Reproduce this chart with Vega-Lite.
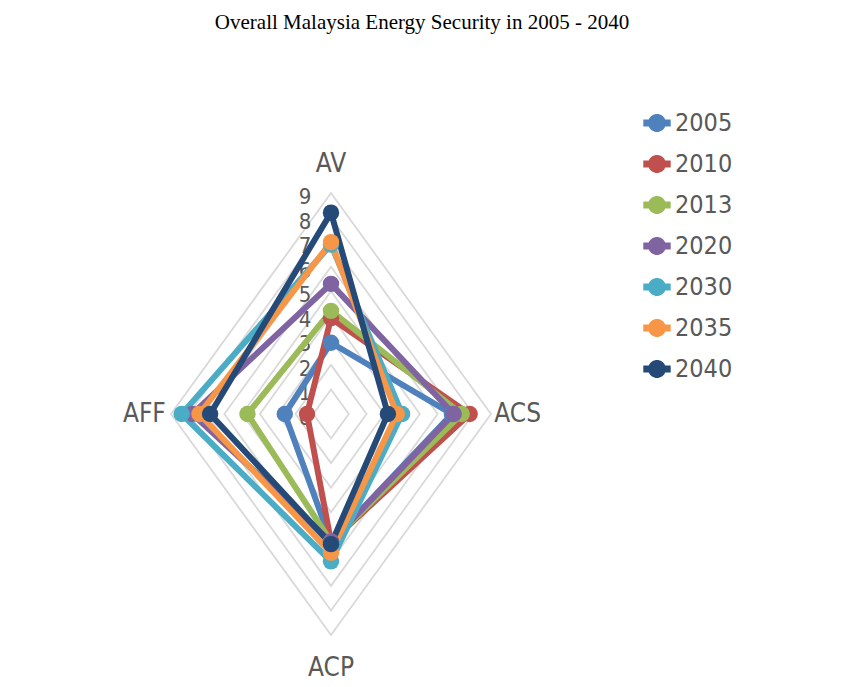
{
  "$schema": "https://vega.github.io/schema/vega-lite/v6.json",
  "width": 320,
  "height": 442,
  "autosize": "none",
  "padding": {"left": 171, "top": 193, "right": 352, "bottom": 52},
  "background": "white",
  "config": {"view": {"stroke": null}},
  "title": {
    "text": "Overall Malaysia Energy Security in 2005 - 2040",
    "font": "Liberation Serif",
    "fontSize": 21,
    "fontWeight": "normal",
    "color": "#000000",
    "anchor": "middle",
    "frame": "group",
    "baseline": "bottom",
    "dx": 91,
    "offset": 55
  },
  "datasets": {
    "scores": [
      {"year": "2005", "axis": "AV", "value": 2.9},
      {"year": "2005", "axis": "ACS", "value": 6.8},
      {"year": "2005", "axis": "ACP", "value": 5.2},
      {"year": "2005", "axis": "AFF", "value": 2.6},
      {"year": "2010", "axis": "AV", "value": 3.9},
      {"year": "2010", "axis": "ACS", "value": 7.8},
      {"year": "2010", "axis": "ACP", "value": 5.2},
      {"year": "2010", "axis": "AFF", "value": 1.35},
      {"year": "2013", "axis": "AV", "value": 4.2},
      {"year": "2013", "axis": "ACS", "value": 7.35},
      {"year": "2013", "axis": "ACP", "value": 5.2},
      {"year": "2013", "axis": "AFF", "value": 4.7},
      {"year": "2020", "axis": "AV", "value": 5.3},
      {"year": "2020", "axis": "ACS", "value": 6.9},
      {"year": "2020", "axis": "ACP", "value": 5.2},
      {"year": "2020", "axis": "AFF", "value": 7.8},
      {"year": "2030", "axis": "AV", "value": 6.9},
      {"year": "2030", "axis": "ACS", "value": 4.0},
      {"year": "2030", "axis": "ACP", "value": 6.0},
      {"year": "2030", "axis": "AFF", "value": 8.4},
      {"year": "2035", "axis": "AV", "value": 7.0},
      {"year": "2035", "axis": "ACS", "value": 3.7},
      {"year": "2035", "axis": "ACP", "value": 5.65},
      {"year": "2035", "axis": "AFF", "value": 7.4},
      {"year": "2040", "axis": "AV", "value": 8.2},
      {"year": "2040", "axis": "ACS", "value": 3.2},
      {"year": "2040", "axis": "ACP", "value": 5.3},
      {"year": "2040", "axis": "AFF", "value": 6.8}
    ],
    "grid": [
      {"value": 1, "axis": ["AV", "ACS", "ACP", "AFF"]},
      {"value": 2, "axis": ["AV", "ACS", "ACP", "AFF"]},
      {"value": 3, "axis": ["AV", "ACS", "ACP", "AFF"]},
      {"value": 4, "axis": ["AV", "ACS", "ACP", "AFF"]},
      {"value": 5, "axis": ["AV", "ACS", "ACP", "AFF"]},
      {"value": 6, "axis": ["AV", "ACS", "ACP", "AFF"]},
      {"value": 7, "axis": ["AV", "ACS", "ACP", "AFF"]},
      {"value": 8, "axis": ["AV", "ACS", "ACP", "AFF"]},
      {"value": 9, "axis": ["AV", "ACS", "ACP", "AFF"]}
    ],
    "ticks": [
      {"value": 0}, {"value": 1}, {"value": 2}, {"value": 3}, {"value": 4},
      {"value": 5}, {"value": 6}, {"value": 7}, {"value": 8}, {"value": 9}
    ],
    "axes": [
      {"axis": "AV"}, {"axis": "ACS"}, {"axis": "ACP"}, {"axis": "AFF"}
    ]
  },
  "layer": [
    {
      "data": {"name": "grid"},
      "transform": [
        {"flatten": ["axis"]},
        {"calculate": "indexof(['AV','ACS','ACP','AFF'], datum.axis)", "as": "ord"},
        {"calculate": "datum.axis == 'ACS' ? datum.value : datum.axis == 'AFF' ? -datum.value : 0", "as": "px"},
        {"calculate": "datum.axis == 'AV' ? datum.value : datum.axis == 'ACP' ? -datum.value : 0", "as": "py"}
      ],
      "mark": {"type": "line", "interpolate": "linear-closed", "color": "#D9D9D9", "strokeWidth": 1.8},
      "encoding": {
        "x": {"field": "px", "type": "quantitative", "scale": {"domain": [-9, 9], "nice": false, "zero": false}, "axis": null},
        "y": {"field": "py", "type": "quantitative", "scale": {"domain": [-9, 9], "nice": false, "zero": false}, "axis": null},
        "detail": {"field": "value", "type": "nominal"},
        "order": {"field": "ord", "type": "quantitative"}
      }
    },
    {
      "data": {"name": "ticks"},
      "transform": [{"calculate": "0", "as": "px"}],
      "mark": {"type": "text", "font": "Liberation Sans Narrow, DejaVu Sans Condensed, sans-serif", "fontSize": 22, "color": "#595959", "align": "center", "baseline": "middle", "dx": -26, "dy": 4},
      "encoding": {
        "x": {"field": "px", "type": "quantitative"},
        "y": {"field": "value", "type": "quantitative"},
        "text": {"field": "value", "type": "quantitative"}
      }
    },
    {
      "data": {"name": "axes"},
      "transform": [
        {"calculate": "datum.axis == 'AV' ? 10.2 : datum.axis == 'ACP' ? 10.35 : 10.5", "as": "r"},
        {"calculate": "datum.axis == 'ACS' ? datum.r : datum.axis == 'AFF' ? -datum.r : 0", "as": "px"},
        {"calculate": "datum.axis == 'AV' ? datum.r : datum.axis == 'ACP' ? -datum.r : 0", "as": "py"}
      ],
      "mark": {"type": "text", "font": "Liberation Sans Narrow, DejaVu Sans Condensed, sans-serif", "fontSize": 26, "color": "#595959", "align": "center", "baseline": "middle"},
      "encoding": {
        "x": {"field": "px", "type": "quantitative"},
        "y": {"field": "py", "type": "quantitative"},
        "text": {"field": "axis", "type": "nominal"}
      }
    },
    {
      "data": {"name": "scores"},
      "transform": [
        {"calculate": "indexof(['AV','ACS','ACP','AFF'], datum.axis)", "as": "ord"},
        {"calculate": "datum.axis == 'ACS' ? datum.value : datum.axis == 'AFF' ? -datum.value : 0", "as": "px"},
        {"calculate": "datum.axis == 'AV' ? datum.value : datum.axis == 'ACP' ? -datum.value : 0", "as": "py"}
      ],
      "mark": {"type": "line", "interpolate": "linear-closed", "strokeWidth": 6},
      "encoding": {
        "x": {"field": "px", "type": "quantitative"},
        "y": {"field": "py", "type": "quantitative"},
        "color": {"field": "year", "type": "nominal",
          "scale": {"domain": ["2005", "2010", "2013", "2020", "2030", "2035", "2040"],
                    "range": ["#4F81BD", "#C0504D", "#9BBB59", "#8064A2", "#4BACC6", "#F79646", "#254A77"]}},
        "order": {"field": "ord", "type": "quantitative"}
      }
    },
    {
      "data": {"name": "scores"},
      "transform": [
        {"calculate": "datum.axis == 'ACS' ? datum.value : datum.axis == 'AFF' ? -datum.value : 0", "as": "px"},
        {"calculate": "datum.axis == 'AV' ? datum.value : datum.axis == 'ACP' ? -datum.value : 0", "as": "py"}
      ],
      "mark": {"type": "point", "filled": true, "size": 270, "opacity": 1},
      "encoding": {
        "x": {"field": "px", "type": "quantitative"},
        "y": {"field": "py", "type": "quantitative"},
        "color": {"field": "year", "type": "nominal",
          "legend": {
            "title": null,
            "orient": "none",
            "legendX": 472,
            "legendY": -84,
            "symbolType": "M -1 -0.25 L -0.6 -0.25 A 0.65 0.65 0 0 1 0.6 -0.25 L 1 -0.25 L 1 0.25 L 0.6 0.25 A 0.65 0.65 0 0 1 -0.6 0.25 L -1 0.25 Z",
            "symbolSize": 750,
            "symbolStrokeWidth": 0,
            "symbolOpacity": 1,
            "labelFont": "Liberation Sans Narrow, DejaVu Sans Condensed, sans-serif",
            "labelFontSize": 25,
            "labelColor": "#595959",
            "labelOffset": 4,
            "rowPadding": 14
          }
        }
      }
    }
  ]
}
